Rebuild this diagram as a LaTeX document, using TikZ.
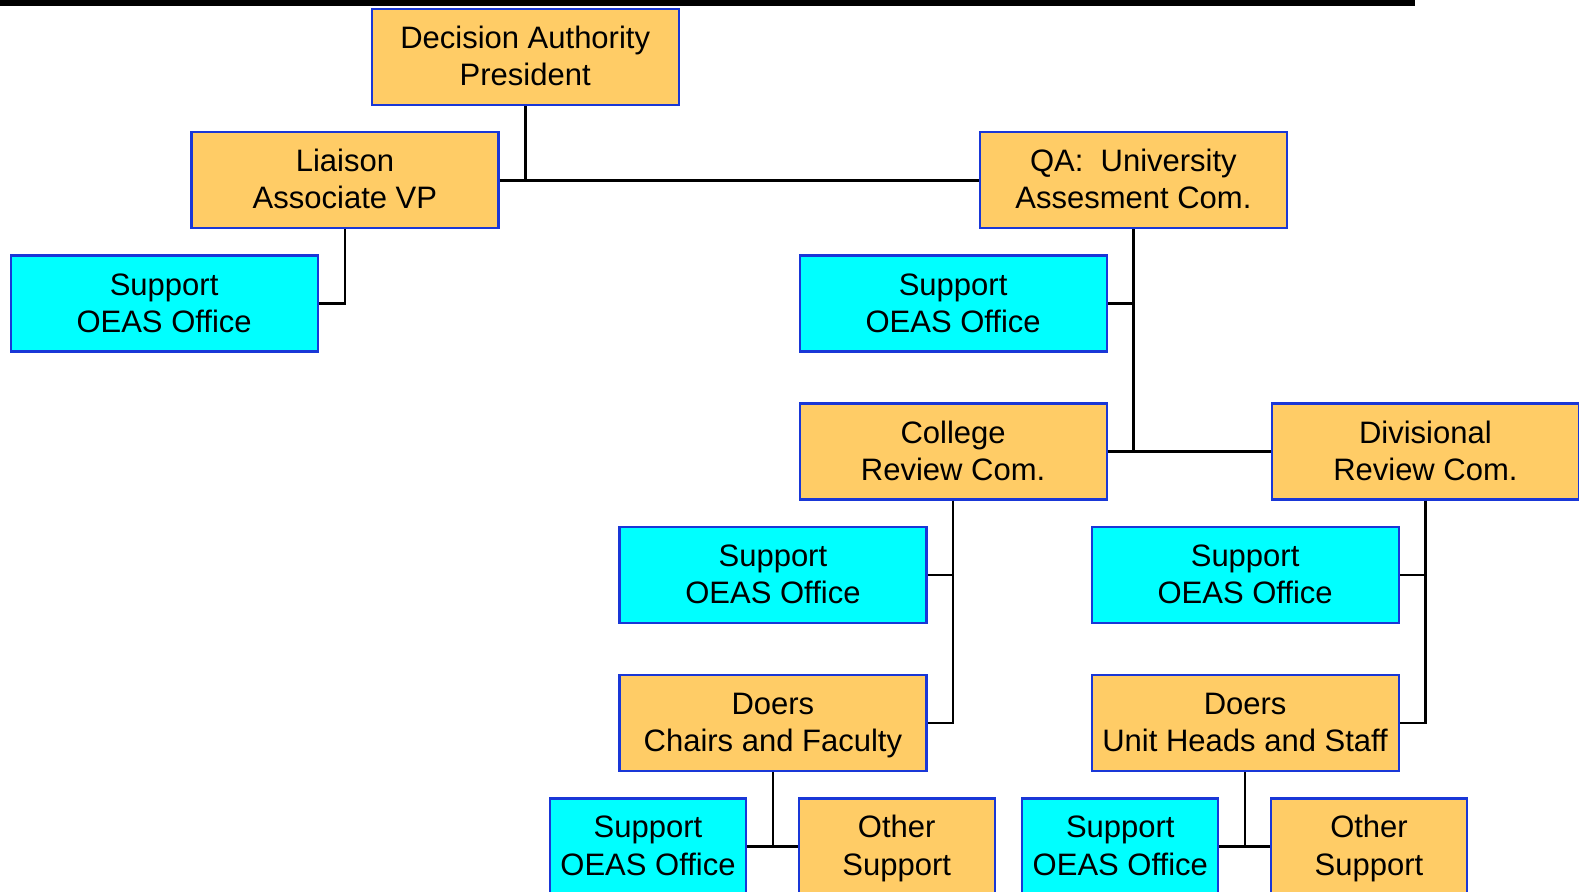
\documentclass[tikz,border=0pt]{standalone}
\usepackage{fontspec}
\setmainfont{Liberation Sans}
\definecolor{boxgold}{RGB}{255,204,102}
\definecolor{boxaqua}{RGB}{0,255,255}
\definecolor{boxline}{RGB}{25,55,215}
\begin{document}
\begin{tikzpicture}[x=0.5pt,y=-0.5pt,
  unit/.style={draw=boxline, line width=1.1pt, minimum width=153.5pt, minimum height=48pt,
    align=center, inner sep=0pt, text height=32pt, text depth=3.3pt,
    font=\fontsize{15.5}{18.6}\selectfont},
  gold/.style={unit, fill=boxgold},
  aqua/.style={unit, fill=boxaqua},
  small/.style={minimum width=98pt},
  link/.style={line width=1.3pt}]
\useasboundingbox (0,0) rectangle (1579,892);
\fill[black] (0,0) rectangle (1415,6);
% top levels
\node[gold] (pres) at (525.2,56.9) {Decision Authority\\President};
\node[gold] (liaison) at (344.9,180.3) {Liaison\\Associate VP};
\node[gold] (qa) at (1133.4,180.3) {QA:\ \ University\\Assesment Com.};
\node[aqua] (supl) at (164.1,303.6) {Support\\OEAS Office};
\node[aqua] (supqa) at (953.1,303.6) {Support\\OEAS Office};
% review committees
\node[gold] (college) at (953.1,451.6) {College\\Review Com.};
\node[gold] (div) at (1425.4,451.6) {Divisional\\Review Com.};
\node[aqua] (supc) at (772.9,575.0) {Support\\OEAS Office};
\node[aqua] (supd) at (1245.1,575.0) {Support\\OEAS Office};
\node[gold] (doersc) at (772.9,723.0) {Doers\\Chairs and Faculty};
\node[gold] (doersu) at (1245.1,723.0) {Doers\\Unit Heads and Staff};
% bottom row
\node[aqua, small] (supbl) at (648.0,846.4) {Support\\OEAS Office};
\node[gold, small] (otherl) at (896.7,846.4) {Other\\Support};
\node[aqua, small] (supbr) at (1120.3,846.4) {Support\\OEAS Office};
\node[gold, small] (otherr) at (1369.0,846.4) {Other\\Support};
% connectors
\draw[link] (liaison.east) -- (qa.west);
\draw[link] (pres.south) -- (pres.south |- liaison.east);
\draw[link] (liaison.south) |- (supl.east);
\draw[link] (qa.south) |- (supqa.east);
\draw[link] (qa.south) -- (qa.south |- college.east);
\draw[link] (college.east) -- (div.west);
\draw[link] (college.south) |- (supc.east);
\draw[link] (college.south) |- (doersc.east);
\draw[link] (div.south) |- (supd.east);
\draw[link] (div.south) |- (doersu.east);
\draw[link] (doersc.south) -- (doersc.south |- supbl.east);
\draw[link] (supbl.east) -- (otherl.west);
\draw[link] (doersu.south) -- (doersu.south |- supbr.east);
\draw[link] (supbr.east) -- (otherr.west);
\end{tikzpicture}
\end{document}
